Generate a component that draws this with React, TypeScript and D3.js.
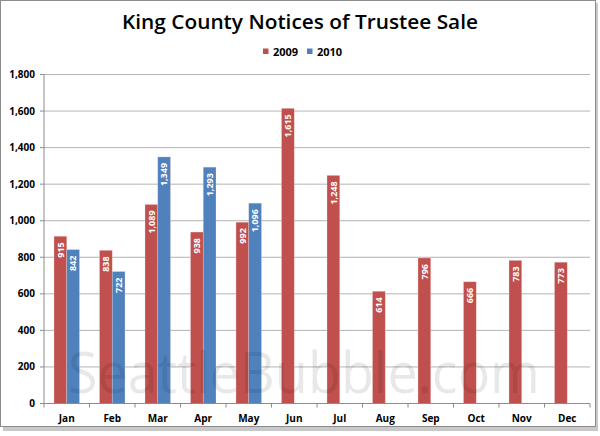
import React from "react";
import * as d3 from "d3";

const months = ["Jan", "Feb", "Mar", "Apr", "May", "Jun", "Jul", "Aug", "Sep", "Oct", "Nov", "Dec"];
const series = ["2009", "2010"];
const values2009 = [915, 838, 1089, 938, 992, 1615, 1248, 614, 796, 666, 783, 773];
const values2010: (number | null)[] = [842, 722, 1349, 1293, 1096, null, null, null, null, null, null, null];
const yTicks = [0, 200, 400, 600, 800, 1000, 1200, 1400, 1600, 1800];
const colors = ["#C0504D", "#4F81BD"];

const W = 600, H = 436;
const left = 44, right = 590, top = 74.5, bottom = 403.5;

export default function App() {
  const x = d3.scaleBand<string>().domain(months).range([left, right]).paddingInner(0.44).paddingOuter(0.22);
  const xOuter = d3.scaleBand<string>().domain(months).range([left, right]);
  const xs = d3.scaleBand<string>().domain(series).range([0, x.bandwidth()]);
  const y = d3.scaleLinear().domain([0, 1800]).range([bottom, top]);
  const fmt = d3.format(",");
  const font = "'Open Sans', 'DejaVu Sans', sans-serif";
  const data = [values2009, values2010];

  return (
    <svg width={W} height={H} style={{ position: "absolute", left: 0, top: 0, background: "#fff" }} fontFamily={font}>
      <rect x={0} y={0} width={W} height={H} fill="#fff" />
      {/* frame with shadow */}
      <rect x={3} y={3} width={595} height={428} fill="#c8c8c8" />
      <rect x={0.5} y={0.5} width={595} height={426} fill="#fff" stroke="#8c8c8c" strokeWidth={1} />
      {/* gridlines */}
      {yTicks.map((t) => (
        <line key={t} x1={left} x2={right} y1={y(t)} y2={y(t)} stroke="#b3b3b3" strokeWidth={1} />
      ))}
      {/* bars */}
      {series.map((s, si) =>
        months.map((m, i) => {
          const v = data[si][i];
          if (v == null) return null;
          const bx = (x(m) as number) + (xs(s) as number);
          const bw = xs.bandwidth();
          return (
            <g key={s + m}>
              <rect x={bx} y={y(v)} width={bw} height={bottom - y(v)} fill={colors[si]} stroke="#f2dcdb" strokeOpacity={0.5} strokeWidth={0.6} />
              <text
                transform={`translate(${bx + bw / 2 + 3.2},${y(v) + 6}) rotate(-90)`}
                textAnchor="end"
                fontSize={9}
                fontWeight="bold"
                fill="#fff"
              >
                {fmt(v)}
              </text>
            </g>
          );
        })
      )}
      {/* watermark (drawn over the bars) */}
      <text x={68} y={393} fontSize={56} fill="#000" fillOpacity={0.09} textLength={472} lengthAdjust="spacingAndGlyphs" fontFamily="'Open Sans', sans-serif">SeattleBubble.com</text>
      {/* axes */}
      <line x1={left} x2={left} y1={top} y2={bottom} stroke="#8c8c8c" />
      <line x1={left} x2={right} y1={bottom} y2={bottom} stroke="#8c8c8c" />
      {yTicks.map((t) => (
        <g key={"yt" + t}>
          <line x1={left - 4} x2={left} y1={y(t)} y2={y(t)} stroke="#8c8c8c" />
          <text x={35} y={y(t) + 3.5} textAnchor="end" fontSize={10} fontWeight="bold" fill="#000">
            {fmt(t)}
          </text>
        </g>
      ))}
      {months.map((m) => (
        <line key={"xt" + m} x1={(xOuter(m) as number)} x2={(xOuter(m) as number)} y1={bottom} y2={bottom + 4} stroke="#8c8c8c" />
      ))}
      <line x1={right} x2={right} y1={bottom} y2={bottom + 4} stroke="#8c8c8c" />
      {months.map((m) => (
        <text key={"xl" + m} x={(xOuter(m) as number) + xOuter.bandwidth() / 2} y={422} textAnchor="middle" fontSize={10} fontWeight="bold" fill="#000">
          {m}
        </text>
      ))}
      {/* title */}
      <text x={300} y={29} textAnchor="middle" fontSize={19} fontWeight="600" fill="#000" textLength={356} lengthAdjust="spacingAndGlyphs">
        King County Notices of Trustee Sale
      </text>
      {/* legend */}
      {series.map((s, si) => (
        <g key={"lg" + s} transform={`translate(${263 + si * 44},0)`}>
          <rect x={0} y={48.5} width={5.5} height={5.5} fill={colors[si]} />
          <text x={10} y={56} fontSize={11} fontWeight="bold" fill="#000">{s}</text>
        </g>
      ))}
    </svg>
  );
}
